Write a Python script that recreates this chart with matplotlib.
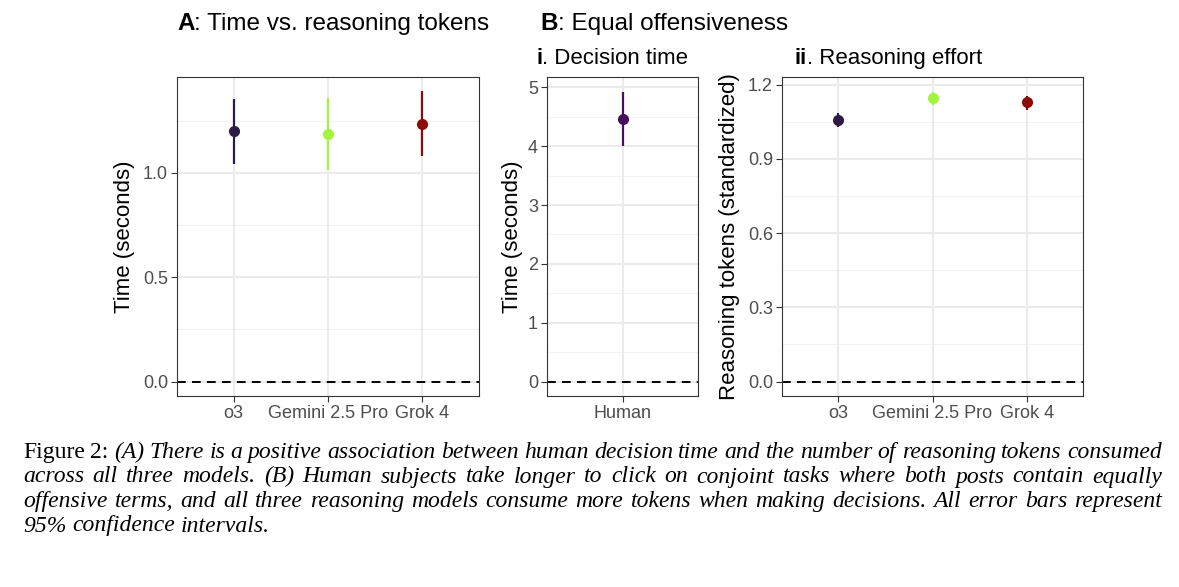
import matplotlib
matplotlib.use('Agg')
import matplotlib.pyplot as plt
from matplotlib.ticker import FixedLocator

# ---------------- data ----------------
models = ['o3', 'Gemini 2.5 Pro', 'Grok 4']
model_colors = ['#2D1B45', '#A2F43C', '#8B0A0A']

# A: decision time (seconds) vs reasoning tokens
time_est = [1.200, 1.186, 1.236]
time_lo = [1.043, 1.013, 1.080]
time_hi = [1.355, 1.360, 1.390]
time_ticks = [0.0, 0.5, 1.0]
time_ticklabels = ['0.0', '0.5', '1.0']

# B-i: human decision time
human_cats = ['Human']
human_colors = ['#4A0F5C']
human_est = [4.47]
human_lo = [4.00]
human_hi = [4.93]
human_ticks = [0, 1, 2, 3, 4, 5]
human_ticklabels = ['0', '1', '2', '3', '4', '5']

# B-ii: reasoning tokens (standardized)
tok_est = [1.056, 1.145, 1.128]
tok_lo = [1.029, 1.118, 1.098]
tok_hi = [1.084, 1.172, 1.155]
tok_ticks = [0.0, 0.3, 0.6, 0.9, 1.2]
tok_ticklabels = ['0.0', '0.3', '0.6', '0.9', '1.2']

caption_lines = [
    "Figure 2: (A) There is a positive association between human decision time and the number of reasoning tokens consumed",
    "across all three models. (B) Human subjects take longer to click on conjoint tasks where both posts contain equally",
    "offensive terms, and all three reasoning models consume more tokens when making decisions. All error bars represent",
    "95% confidence intervals.",
]

# ---------------- style ----------------
W, H = 1179, 587
DPI = 100
SANS = ['Liberation Sans', 'DejaVu Sans']
SERIF = ['Liberation Serif', 'DejaVu Serif']
plt.rcParams['font.family'] = SANS

fig = plt.figure(figsize=(W / DPI, H / DPI), dpi=DPI)
fig.patch.set_facecolor('white')


def px_axes(x0, y0, x1, y1):
    return fig.add_axes([x0 / W, 1 - y1 / H, (x1 - x0) / W, (y1 - y0) / H])


def style_panel(ax, cats, colors, est, lo, hi, ticks, ticklabels, ylabel, label_x):
    n = len(cats)
    xs = list(range(1, n + 1))
    ymin = min(0, min(lo))
    ymax = max(hi)
    pad = 0.05 * (ymax - ymin)
    ax.set_ylim(ymin - pad, ymax + pad)
    ax.set_xlim(0.4, n + 0.6)
    # grid
    ax.set_facecolor('white')
    minor = [(ticks[i] + ticks[i + 1]) / 2 for i in range(len(ticks) - 1)]
    step = ticks[1] - ticks[0]
    extra = ticks[-1] + step / 2
    if extra < ymax + pad:
        minor.append(extra)
    for m in minor:
        ax.axhline(m, color='#F2F2F2', lw=0.75, zorder=0)
    for t in ticks:
        ax.axhline(t, color='#EBEBEB', lw=1.5, zorder=0)
    for x in xs:
        ax.axvline(x, color='#EBEBEB', lw=1.5, zorder=0)
    ax.axhline(0, color='black', lw=1.4, linestyle=(0, (4.5, 3.2)), zorder=1)
    for x, c, e, l, h in zip(xs, colors, est, lo, hi):
        ax.plot([x, x], [l, h], color=c, lw=1.6, solid_capstyle='butt', zorder=2)
        ax.plot([x], [e], 'o', color=c, markersize=8, markeredgewidth=0, zorder=3)
    ax.yaxis.set_major_locator(FixedLocator(ticks))
    ax.set_yticklabels(ticklabels)
    ax.set_xticks(xs)
    ax.set_xticklabels(cats)
    ax.tick_params(axis='both', colors='#333333', labelcolor='#4D4D4D', labelsize=13,
                   length=4, width=0.8, pad=2.5)
    for s in ax.spines.values():
        s.set_color('#333333')
        s.set_linewidth(0.8)
    ax.set_ylabel(ylabel, fontsize=16, color='black')
    ax.yaxis.set_label_coords(label_x, 0.5)


axA = px_axes(177, 77, 479, 396)
style_panel(axA, models, model_colors, time_est, time_lo, time_hi,
            time_ticks, time_ticklabels, 'Time (seconds)', -0.140)

axBi = px_axes(547, 77, 698, 396)
style_panel(axBi, human_cats, human_colors, human_est, human_lo, human_hi,
            human_ticks, human_ticklabels, 'Time (seconds)', -0.160)

axBii = px_axes(782, 77, 1083, 396)
style_panel(axBii, models, model_colors, tok_est, tok_lo, tok_hi,
            tok_ticks, tok_ticklabels, 'Reasoning tokens (standardized)', -0.138)


def title(x, y_base, bold, rest, size=16):
    t1 = fig.text(x / W, 1 - y_base / H, bold, fontsize=size, fontweight='bold',
                  ha='left', va='bottom', family=SANS)
    a = plt.annotate(rest, xy=(1, 0), xycoords=t1, ha='left', va='bottom',
                     fontsize=size, family=SANS, annotation_clip=False)
    return t1, a


title(177, 35, 'A', ': Time vs. reasoning tokens', size=17.5)
title(540, 35, 'B', ': Equal offensiveness', size=17.5)
title(536, 69, 'i', '. Decision time')
title(795, 69, 'ii', '. Reasoning effort')

# ---------------- caption (justified) ----------------
CAP_SIZE = 17
cap_left, cap_right = 23, 1162
baselines = [458, 482.5, 507, 531.5]
renderer = fig.canvas.get_renderer()

for li, line in enumerate(caption_lines):
    words = line.split(' ')
    objs = []
    for wi, w in enumerate(words):
        roman = (li == 0 and wi < 2)
        t = fig.text(0, 1 - baselines[li] / H, w, fontsize=CAP_SIZE, family=SERIF,
                     style='normal' if roman else 'italic', ha='left', va='baseline')
        objs.append(t)
    widths = [o.get_window_extent(renderer).width for o in objs]
    if li < len(caption_lines) - 1:
        gap = (cap_right - cap_left - sum(widths)) / (len(words) - 1)
    else:
        sp = fig.text(0, 0, 'a a', fontsize=CAP_SIZE, family=SERIF, style='italic')
        sp2 = fig.text(0, 0, 'aa', fontsize=CAP_SIZE, family=SERIF, style='italic')
        gap = sp.get_window_extent(renderer).width - sp2.get_window_extent(renderer).width
        sp.remove()
        sp2.remove()
    x = cap_left
    for o, w in zip(objs, widths):
        o.set_x(x / W)
        x += w + gap

fig.savefig('out.png', dpi=DPI, facecolor='white')
